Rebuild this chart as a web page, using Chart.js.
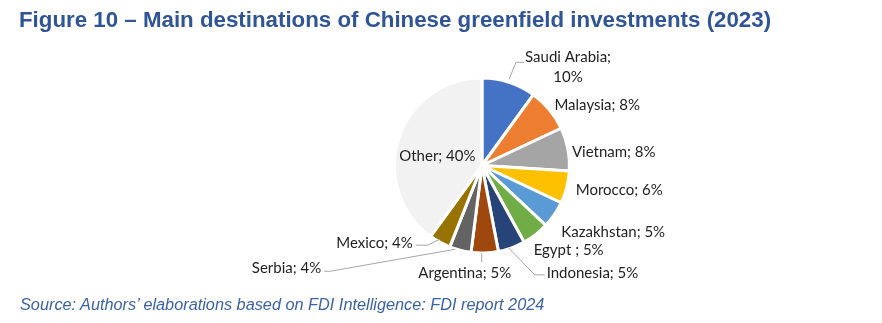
<!DOCTYPE html>
<html>
<head>
<meta charset="utf-8">
<script src="https://cdn.jsdelivr.net/npm/chart.js@4.4.0/dist/chart.umd.min.js"></script>
<style>
  html, body { margin: 0; padding: 0; background: #fff; }
  #wrap { position: relative; width: 882px; height: 323px; overflow: hidden; }
  #title { position: absolute; left: 19px; top: 9px; line-height: 22px; font-family: Arial, "Liberation Sans", sans-serif; font-weight: bold; font-size: 22.3px; color: #2F5597; white-space: nowrap; }
  #source { position: absolute; left: 20px; top: 296px; line-height: 16px; font-family: Arial, "Liberation Sans", sans-serif; font-style: italic; font-size: 16.3px; color: #3A62A7; white-space: nowrap; }
  #chart { position: absolute; left: 0; top: 0; }
</style>
</head>
<body>
<div id="wrap">
  <canvas id="chart" width="882" height="323"></canvas>
  <div id="title">Figure 10 – Main destinations of Chinese greenfield investments (2023)</div>
  <div id="source">Source: Authors’ elaborations based on FDI Intelligence: FDI report 2024</div>
</div>
<script>
const countries = ['Saudi Arabia', 'Malaysia', 'Vietnam', 'Morocco', 'Kazakhstan', 'Egypt ', 'Indonesia', 'Argentina', 'Serbia', 'Mexico', 'Other'];
const shares = [10, 8, 8, 6, 5, 5, 5, 5, 4, 4, 40];
const colors = ['#4472C4', '#ED7D31', '#A5A5A5', '#FFC000', '#5B9BD5', '#70AD47', '#264478', '#9E480E', '#636363', '#997300', '#F2F2F2'];

// where each label sits, relative to the mid point of its slice's outer edge
const labelPlace = [
    { align: 'center', dx: 59, dy: -15, twoLines: true, leader: [[0, -3], [7, -20], [15, -20]] },
    { align: 'left', dx: 5, dy: -5 },
    { align: 'left', dx: 4, dy: 3 },
    { align: 'left', dx: 9, dy: 3 },
    { align: 'left', dx: 7, dy: 17 },
    { align: 'left', dx: -2, dy: 16 },
    { align: 'left', dx: 35, dy: 25, leader: [[-3, 0], [23, 27], [33, 27]] },
    { align: 'center', dx: -20, dy: 20, leader: [[-3, 0], [-3, 9]] },
    { align: 'right', dx: -139, dy: 18, leader: [[-5, -1], [-130, 21], [-136, 21]] },
    { align: 'right', dx: -27, dy: 1, leader: [[0, -3], [-12, 3], [-24, 3]] },
    { align: 'center', inside: true, dx: -3, dy: 4 }
];

const pieLabels = {
    id: 'pieLabels',
    afterDraw(chart) {
        const ctx = chart.ctx;
        const arcs = chart.getDatasetMeta(0).data;
        ctx.save();
        ctx.font = '15px Lato, "Open Sans", sans-serif';
        ctx.fillStyle = '#1f1f1f';
        ctx.textBaseline = 'middle';
        arcs.forEach((arc, i) => {
            const place = labelPlace[i];
            const mid = (arc.startAngle + arc.endAngle) / 2;
            const r = place.inside ? arc.outerRadius * 0.5 : arc.outerRadius;
            const px = arc.x + Math.cos(mid) * r;
            const py = arc.y + Math.sin(mid) * r;
            if (place.leader) {
                ctx.strokeStyle = '#A6A6A6';
                ctx.lineWidth = 1;
                ctx.beginPath();
                place.leader.forEach((p, k) => {
                    if (k === 0) ctx.moveTo(px + p[0], py + p[1]);
                    else ctx.lineTo(px + p[0], py + p[1]);
                });
                ctx.stroke();
            }
            ctx.textAlign = place.align;
            const tx = px + place.dx;
            const ty = py + place.dy;
            const value = shares[i] + '%';
            if (place.twoLines) {
                ctx.fillText(countries[i] + ';', tx, ty - 10);
                ctx.fillText(value, tx, ty + 10);
            } else {
                ctx.fillText(countries[i] + '; ' + value, tx, ty);
            }
        });
        ctx.restore();
    }
};

new Chart(document.getElementById('chart'), {
    type: 'pie',
    data: {
        labels: countries,
        datasets: [{
            data: shares,
            backgroundColor: colors,
            borderColor: '#ffffff',
            borderWidth: 3
        }]
    },
    options: {
        responsive: false,
        animation: false,
        layout: { padding: { top: 75, bottom: 67, left: 393, right: 311 } },
        plugins: {
            legend: { display: false },
            tooltip: { enabled: false }
        }
    },
    plugins: [pieLabels]
});
</script>
</body>
</html>
